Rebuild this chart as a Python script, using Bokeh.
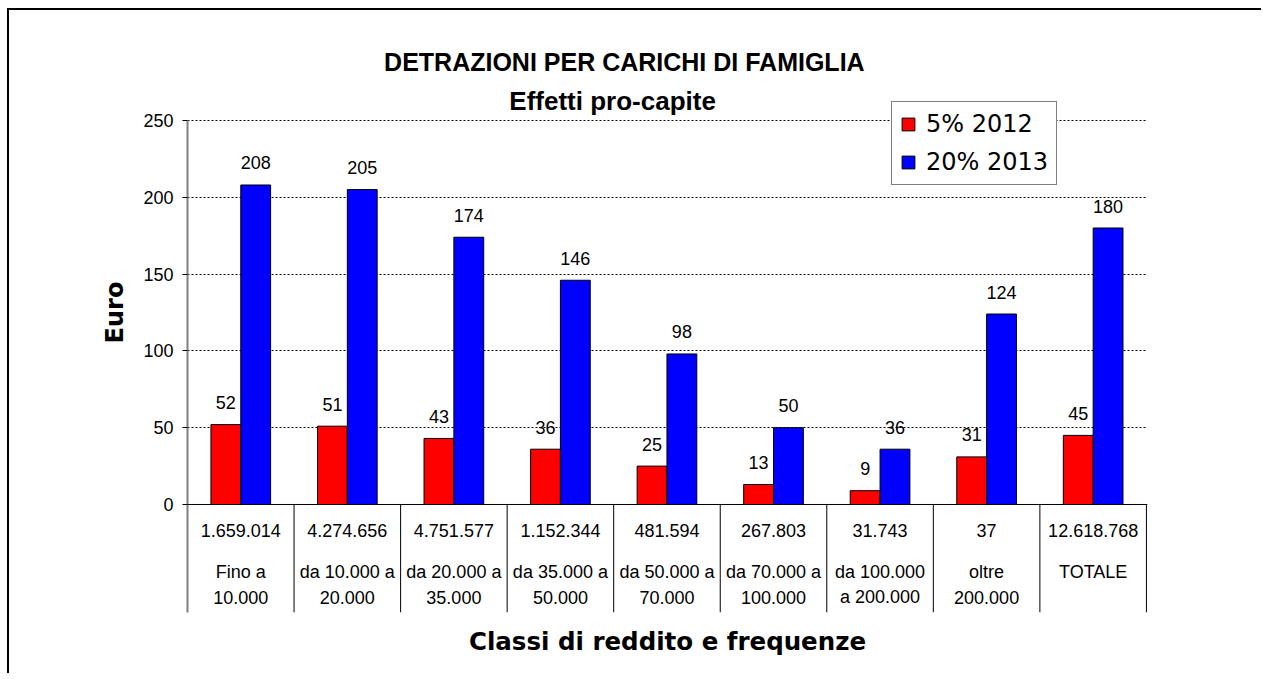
import math
from bokeh.plotting import figure
from bokeh.models import (Range1d, FixedTicker, ColumnDataSource, Label, Span,
                          Legend, LegendItem)
from bokeh.transform import dodge
from bokeh.embed import file_html
from bokeh.resources import INLINE
from bokeh.core.properties import value

# ---------------- data ----------------
title_text = "DETRAZIONI PER CARICHI DI FAMIGLIA"
subtitle_text = "Effetti pro-capite"
categories = ["Fino a\n10.000", "da 10.000 a\n20.000", "da 20.000 a\n35.000",
              "da 35.000 a\n50.000", "da 50.000 a\n70.000", "da 70.000 a\n100.000",
              "da 100.000\na 200.000", "oltre\n200.000", "TOTALE"]
frequencies = ["1.659.014", "4.274.656", "4.751.577", "1.152.344", "481.594",
               "267.803", "31.743", "37", "12.618.768"]
series_names = ["5% 2012", "20% 2013"]
values_2012 = [52, 51, 43, 36, 25, 13, 9, 31, 45]
values_2013 = [208, 205, 174, 146, 98, 50, 36, 124, 180]
y_ticks = [0, 50, 100, 150, 200, 250]
y_label = "Euro"
x_label = "Classi di reddito e frequenze"

# ---------------- layout ----------------
n = len(categories)
bw = 0.28
Y_MAX = 250
Y_TOP = 320.3        # room above the value axis for the titles and legend
Y_BOTTOM = -70.31    # room below zero for the category table
ARIAL = value("Liberation Sans")

src = ColumnDataSource(dict(
    x=[i + 0.5 for i in range(n)],
    v12=values_2012,
    v13=values_2013,
    v12s=[str(v) for v in values_2012],
    v13s=[str(v) for v in values_2013],
    freq=frequencies,
    line1=[c.split("\n")[0] for c in categories],
    line2=[c.split("\n")[1] if "\n" in c else "" for c in categories],
))

p = figure(width=1254, height=665, x_range=Range1d(0, n + 0.01),
           y_range=Range1d(Y_BOTTOM, Y_TOP), output_backend="svg",
           toolbar_location=None, title=None,
           min_border_left=178, min_border_right=116,
           min_border_top=2, min_border_bottom=63)
p.styles = {"margin-left": "7px", "margin-top": "8px",
            "border-left": "2px solid black", "border-top": "2px solid black"}
p.outline_line_color = None
p.background_fill_color = "white"
p.border_fill_color = "white"
p.xgrid.visible = False

xa = p.xaxis[0]
xa.ticker = FixedTicker(ticks=[])
xa.axis_line_color = None
xa.major_tick_line_color = None
xa.minor_tick_line_color = None
xa.axis_label = x_label
xa.axis_label_text_font = "DejaVu Sans"
xa.axis_label_text_font_style = "bold"
xa.axis_label_text_font_size = "24.5px"
xa.axis_label_text_color = "black"
xa.axis_label_standoff = 14

ax = p.yaxis[0]
ax.ticker = FixedTicker(ticks=y_ticks)
ax.bounds = (Y_BOTTOM, Y_MAX)
ax.axis_line_color = "#808080"
ax.axis_line_width = 2
ax.major_tick_line_color = "black"
ax.major_tick_out = 5
ax.major_tick_in = 0
ax.minor_tick_line_color = None
ax.major_label_text_font = "Liberation Sans"
ax.major_label_text_font_size = "18px"
ax.major_label_text_color = "black"
ax.major_label_standoff = 9
ax.axis_label = y_label
ax.axis_label_text_font = "DejaVu Sans"
ax.axis_label_text_font_style = "bold"
ax.axis_label_text_font_size = "24px"
ax.axis_label_text_color = "black"
ax.axis_label_standoff = 11

g = p.ygrid[0]
g.ticker = FixedTicker(ticks=[t for t in y_ticks if t > 0])
g.grid_line_color = "black"
g.grid_line_dash = "2 2"
g.grid_line_width = 1

p.add_layout(Span(location=0, dimension="width", line_color="black", line_width=1))

# separators of the category table
p.segment(x0=list(range(1, n + 1)), y0=[0] * n, x1=list(range(1, n + 1)),
          y1=[Y_BOTTOM] * n, line_color="black", line_width=1)

r1 = p.vbar(x=dodge("x", -bw / 2, range=p.x_range), top="v12", bottom=0, width=bw,
            source=src, fill_color="#FF0000", line_color="black", line_width=1)
r2 = p.vbar(x=dodge("x", bw / 2, range=p.x_range), top="v13", bottom=0, width=bw,
            source=src, fill_color="#0000FF", line_color="black", line_width=1)

common = dict(source=src, text_font=ARIAL, text_font_size="18px", text_color="black",
              text_align="center", text_baseline="middle")
p.text(x=dodge("x", -bw / 2, range=p.x_range), y="v12", text="v12s", y_offset=-22, **common)
p.text(x=dodge("x", bw / 2, range=p.x_range), y="v13", text="v13s", y_offset=-22, **common)
p.text(x="x", y=0, text="freq", y_offset=26, **common)
p.text(x="x", y=0, text="line1", y_offset=68, **common)
p.text(x="x", y=0, text="line2", y_offset=93, **common)

# titles
p.add_layout(Label(x=4.10, y=287.8, text=title_text, text_font="Liberation Sans",
                   text_font_style="bold", text_font_size="25px", text_align="center",
                   text_baseline="middle", text_color="black"))
p.add_layout(Label(x=3.99, y=262.4, text=subtitle_text, text_font="Liberation Sans",
                   text_font_style="bold", text_font_size="26px", text_align="center",
                   text_baseline="middle", text_color="black"))

legend = Legend(items=[LegendItem(label=series_names[0], renderers=[r1]),
                       LegendItem(label=series_names[1], renderers=[r2])],
                location=(704, 427), orientation="vertical")
legend.label_text_font = "DejaVu Sans"
legend.label_text_font_size = "24px"
legend.label_text_color = "black"
legend.glyph_width = 16
legend.glyph_height = 16
legend.label_standoff = 10
legend.padding = 8
legend.spacing = 10
legend.margin = 0
legend.border_line_color = "black"
legend.border_line_width = 1
legend.background_fill_color = "white"
legend.background_fill_alpha = 1
p.add_layout(legend)

open("out.html", "w").write(file_html(p, INLINE))
